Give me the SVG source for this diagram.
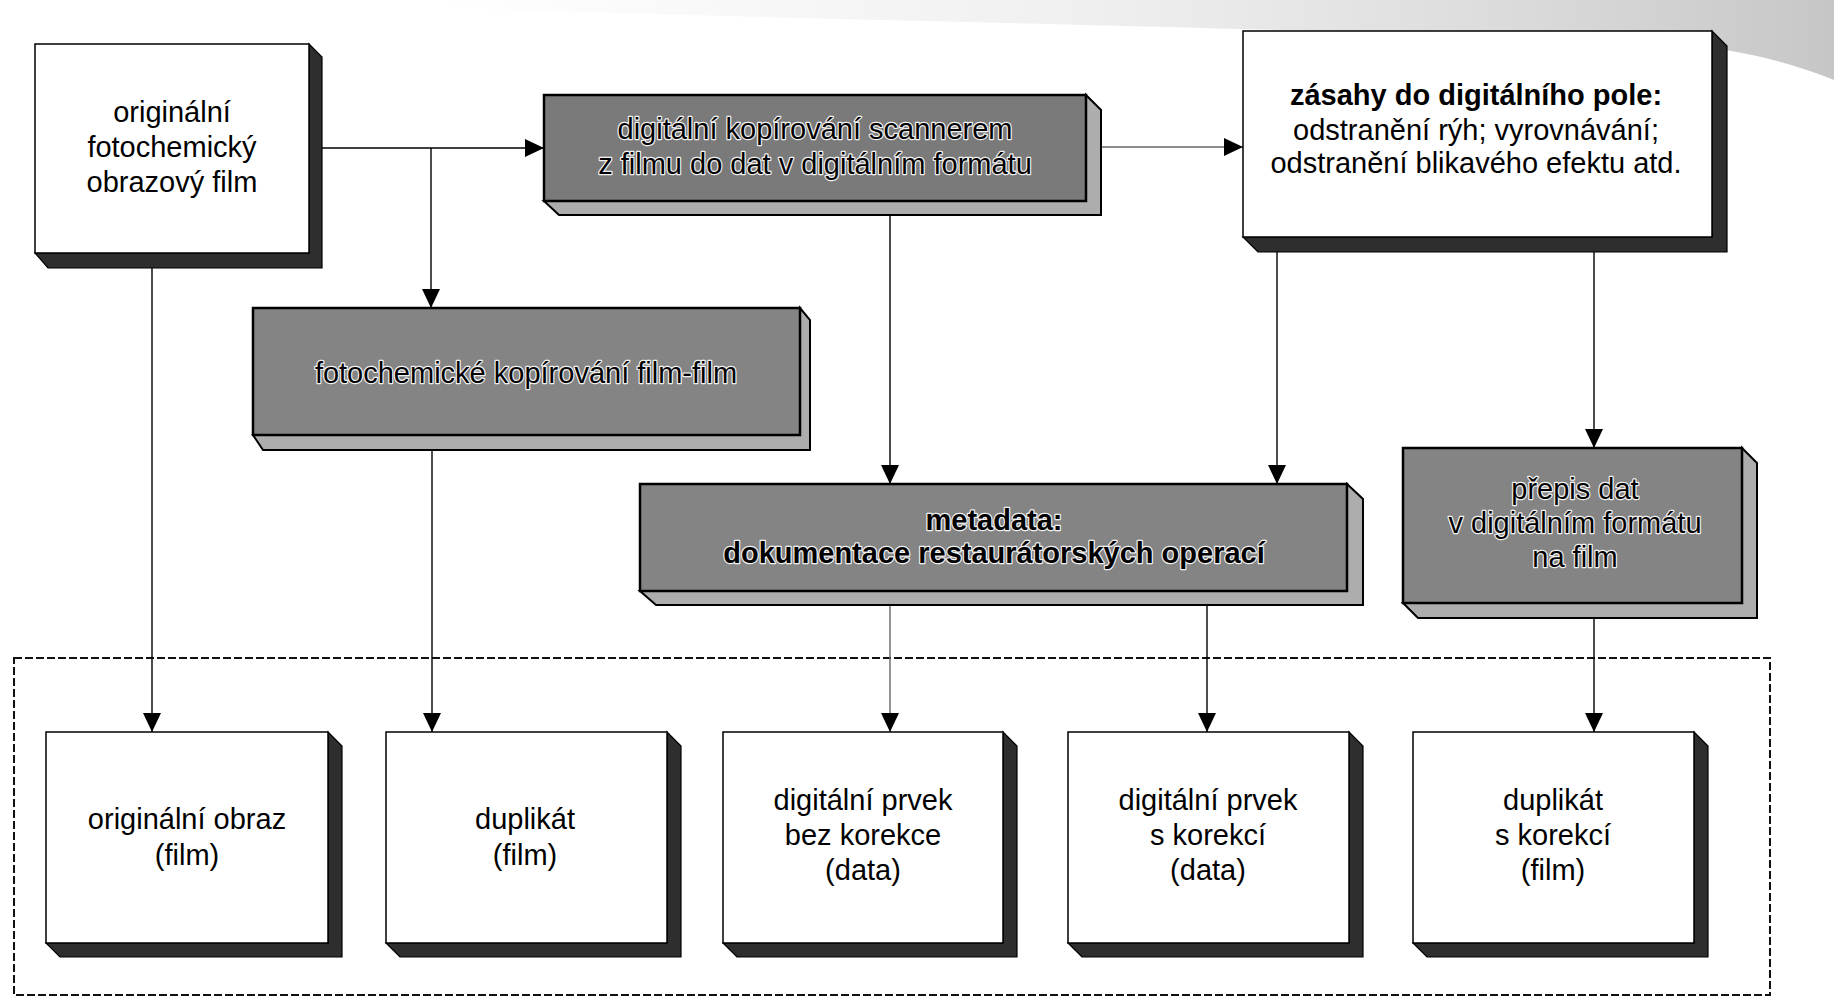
<svg xmlns="http://www.w3.org/2000/svg" width="1834" height="997" viewBox="0 0 1834 997">
<defs>
<linearGradient id="band" x1="0" y1="0" x2="1" y2="0">
<stop offset="0" stop-color="#d4d4d4" stop-opacity="0"/>
<stop offset="0.45" stop-color="#d4d4d4" stop-opacity="0.35"/>
<stop offset="1" stop-color="#bcbcbc" stop-opacity="0.85"/>
</linearGradient>
<marker id="arr" markerUnits="userSpaceOnUse" markerWidth="20" markerHeight="20" refX="19" refY="9" orient="auto" viewBox="0 0 20 18">
<path d="M0,0 L19,9 L0,18 z" fill="#000"/>
</marker>
<style>
.txt{font-family:"Liberation Sans",Arial,sans-serif;font-size:29px;fill:#000;text-anchor:middle}
.b{font-weight:bold}
.halo{stroke:#f2f2f2;stroke-width:2.4px;paint-order:stroke;stroke-linejoin:round}
.wf{fill:#fff;stroke:#000;stroke-width:1.5}
.wd{fill:#2e2e2e;stroke:#000;stroke-width:1.2}
.gf{fill:#848484;stroke:#000;stroke-width:2.5}
.gd{fill:#adadad;stroke:#000;stroke-width:2}
.ln{fill:none;stroke:#000;stroke-width:1.4}
.lt{fill:none;stroke:#666;stroke-width:1.4}
.dash{fill:none;stroke:#111;stroke-width:2;stroke-dasharray:8 3}
</style>
</defs>
<rect width="1834" height="997" fill="#fff"/>
<path d="M440,0 H1834 V80 C1790,62 1740,50 1680,44 C1400,30 900,22 440,8 z" fill="url(#band)"/>

<rect class="dash" x="14" y="658" width="1756" height="337"/>

<g id="connectors">
<path class="ln" d="M322,148 H544" marker-end="url(#arr)"/>
<path class="ln" d="M431,148 V308" marker-end="url(#arr)"/>
<path class="ln" d="M152,268 V732" marker-end="url(#arr)"/>
<path class="ln" d="M432,450 V732" marker-end="url(#arr)"/>
<path class="ln" d="M890,216 V484" marker-end="url(#arr)"/>
<path class="lt" d="M1101,147 H1243" marker-end="url(#arr)"/>
<path class="ln" d="M1277,252 V484" marker-end="url(#arr)"/>
<path class="ln" d="M1594,252 V448" marker-end="url(#arr)"/>
<path class="lt" d="M890,605 V732" marker-end="url(#arr)"/>
<path class="ln" d="M1207,605 V732" marker-end="url(#arr)"/>
<path class="ln" d="M1594,618 V732" marker-end="url(#arr)"/>
</g>

<g id="n-original-film">
<path class="wd" d="M309,44 L322,57 L322,268 L48,268 L35,253 L309,253 z"/>
<rect class="wf" x="35" y="44" width="274" height="209"/>
<text class="txt" x="172" y="122">originální</text>
<text class="txt" x="172" y="157">fotochemický</text>
<text class="txt" x="172" y="192">obrazový film</text>
</g>

<g id="n-digital-scan">
<path class="gd" d="M1086,95 L1101,110 L1101,215 L559,215 L544,201 L1086,201 z"/>
<rect class="gf" x="544" y="95" width="542" height="106" style="fill:#7a7a7a"/>
<text class="txt halo" x="815" y="139">digitální kopírování scannerem</text>
<text class="txt halo" x="815" y="174">z filmu do dat v digitálním formátu</text>
</g>

<g id="n-digital-edits">
<path class="wd" d="M1712,31 L1727,46 L1727,252 L1258,252 L1243,237 L1712,237 z"/>
<rect class="wf" x="1243" y="31" width="469" height="206"/>
<text class="txt b" x="1476" y="105">zásahy do digitálního pole:</text>
<text class="txt" x="1476" y="140">odstranění rýh; vyrovnávání;</text>
<text class="txt" x="1476" y="173">odstranění blikavého efektu atd.</text>
</g>

<g id="n-photochem-copy">
<path class="gd" d="M800,308 L810,320 L810,450 L263,450 L253,435 L800,435 z"/>
<rect class="gf" x="253" y="308" width="547" height="127"/>
<text class="txt halo" x="526" y="383">fotochemické kopírování film-film</text>
</g>

<g id="n-metadata">
<path class="gd" d="M1347,484 L1363,499 L1363,605 L656,605 L640,591 L1347,591 z"/>
<rect class="gf" x="640" y="484" width="707" height="107"/>
<text class="txt b halo" x="994" y="530">metadata:</text>
<text class="txt b halo" x="994" y="563">dokumentace restaurátorských operací</text>
</g>

<g id="n-transfer">
<path class="gd" d="M1742,448 L1757,463 L1757,618 L1418,618 L1403,603 L1742,603 z"/>
<rect class="gf" x="1403" y="448" width="339" height="155"/>
<text class="txt halo" x="1575" y="499">přepis dat</text>
<text class="txt halo" x="1575" y="533">v digitálním formátu</text>
<text class="txt halo" x="1575" y="567">na film</text>
</g>

<g id="n-out-original">
<path class="wd" d="M328,732 L342,746 L342,957 L60,957 L46,943 L328,943 z"/>
<rect class="wf" x="46" y="732" width="282" height="211"/>
<text class="txt" x="187" y="829">originální obraz</text>
<text class="txt" x="187" y="865">(film)</text>
</g>

<g id="n-out-duplicate">
<path class="wd" d="M667,732 L681,746 L681,957 L400,957 L386,943 L667,943 z"/>
<rect class="wf" x="386" y="732" width="281" height="211"/>
<text class="txt" x="525" y="829">duplikát</text>
<text class="txt" x="525" y="865">(film)</text>
</g>

<g id="n-out-digital-raw">
<path class="wd" d="M1003,732 L1017,746 L1017,957 L737,957 L723,943 L1003,943 z"/>
<rect class="wf" x="723" y="732" width="280" height="211"/>
<text class="txt" x="863" y="810">digitální prvek</text>
<text class="txt" x="863" y="845">bez korekce</text>
<text class="txt" x="863" y="880">(data)</text>
</g>

<g id="n-out-digital-corrected">
<path class="wd" d="M1349,732 L1363,746 L1363,957 L1082,957 L1068,943 L1349,943 z"/>
<rect class="wf" x="1068" y="732" width="281" height="211"/>
<text class="txt" x="1208" y="810">digitální prvek</text>
<text class="txt" x="1208" y="845">s korekcí</text>
<text class="txt" x="1208" y="880">(data)</text>
</g>

<g id="n-out-duplicate-corrected">
<path class="wd" d="M1694,732 L1708,746 L1708,957 L1427,957 L1413,943 L1694,943 z"/>
<rect class="wf" x="1413" y="732" width="281" height="211"/>
<text class="txt" x="1553" y="810">duplikát</text>
<text class="txt" x="1553" y="845">s korekcí</text>
<text class="txt" x="1553" y="880">(film)</text>
</g>
</svg>
